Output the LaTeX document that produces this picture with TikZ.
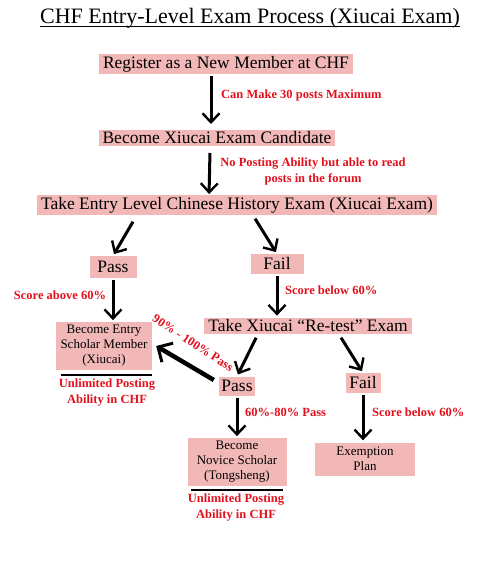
\documentclass[tikz,border=0pt]{standalone}
\usepackage{fontspec}
\setmainfont{Liberation Serif}
\usetikzlibrary{positioning, calc, arrows.meta}

\definecolor{boxpink}{RGB}{242,184,184}
\definecolor{notered}{RGB}{226,16,28}

\begin{document}
\begin{tikzpicture}[
  x=1pt, y=-1pt,
  >={Straight Barb[length=9pt, width=17pt, line width=2.4pt]},
  stepbox/.style  = {fill=boxpink, inner xsep=4pt, inner ysep=2pt,
                     align=center, font=\fontsize{17.5}{19}\selectfont},
  smallbox/.style = {fill=boxpink, inner xsep=4pt, inner ysep=3pt,
                     align=center, font=\fontsize{13}{15}\selectfont},
  resbox/.style   = {stepbox, inner xsep=0pt, inner ysep=0pt},
  note/.style     = {text=notered, align=center, inner sep=1pt,
                     font=\bfseries\fontsize{12.5}{16}\selectfont},
  flow/.style     = {->, line width=3pt, shorten <=2pt, shorten >=2pt},
]
  \useasboundingbox (0,0) rectangle (498,564);

  % title
  \node[font=\fontsize{22}{24}\selectfont, inner sep=0pt] (title) at (250,18)
       {CHF Entry-Level Exam Process (Xiucai Exam)};
  \draw[line width=1pt] (title.south west) ++(0,-2) coordinate (ul) -- (ul -| title.east);

  % main chain
  \node[stepbox] (reg)  at (226,64)  {Register as a New Member at CHF};
  \node[stepbox] (cand) at (217,138) {Become Xiucai Exam Candidate};
  \node[stepbox] (exam) at (237,205) {Take Entry Level Chinese History Exam (Xiucai Exam)};

  \coordinate (r1) at (211,74);  \coordinate (c1) at (211,126);
  \coordinate (c2) at (210,151); \coordinate (e1) at (209,196);
  \draw[flow] (r1) -- (c1);
  \draw[flow] (c2) -- (e1);
  \node[note, anchor=west] (n1) at (220,95) {Can Make 30 posts Maximum};
  \node[note] (n2) at (313,171) {No Posting Ability but able to read\\posts in the forum};

  % first result
  \node[resbox, minimum width=47pt, minimum height=22pt] (pass1) at (113,267) {Pass};
  \node[resbox, minimum width=53pt, minimum height=20pt] (fail1) at (277,264) {Fail};
  \draw[flow] (134,220) -- (pass1.north);
  \draw[flow] (254,217) -- (fail1.north);

  \node[smallbox, minimum width=96pt] (entry) at (104,346)
       {Become Entry\\Scholar Member\\(Xiucai)};
  \draw[line width=1.6pt] ($(entry.south west)+(5,5)$) coordinate (el) -- ++(91,0);
  \node[note, anchor=north] (n3) at ($(entry.south)+(3,8)$) {Unlimited Posting\\Ability in CHF};

  \node[stepbox] (retest) at (308,326) {Take Xiucai ``Re-test'' Exam};

  \draw[flow] (pass1.south) -- (pass1.south |- entry.north);
  \draw[flow] (fail1.south) -- (fail1.south |- retest.north);
  \node[note] (n4) at (60,295) {Score above 60\%};
  \node[note, anchor=west] (n5) at (284,290) {Score below 60\%};

  % re-test result
  \node[resbox, minimum width=36pt, minimum height=19pt] (pass2) at (237,386) {Pass};
  \node[resbox, minimum width=35pt, minimum height=20pt] (fail2) at (363,383) {Fail};
  \draw[flow] (257,336) -- (pass2.north);
  \draw[flow] (340,336) -- (fail2.north);

  \coordinate (tail) at ($(pass2.west)+(-5,-6)$);
  \draw[->, line width=4.5pt,
        >={Straight Barb[length=11pt, width=22pt, line width=3pt]}]
       (tail) -- ($(entry.east)+(4,0)$);
  \node[note, rotate=-33] (n6) at (193,343) {90\% - 100\% Pass};

  \node[smallbox, minimum width=99pt] (novice) at (237,462)
       {Become\\Novice Scholar\\(Tongsheng)};
  \draw[line width=1.6pt] ($(novice.south west)+(4,4)$) coordinate (nl) -- ++(92,0);
  \node[note, anchor=north] (n7) at ($(novice.south)+(-1,7)$) {Unlimited Posting\\Ability in CHF};

  \node[smallbox, minimum width=100pt, minimum height=33pt] (exempt) at (365,459)
       {Exemption\\Plan};

  \draw[flow] (pass2.south) -- (pass2.south |- novice.north);
  \draw[flow] (fail2.south) -- (fail2.south |- exempt.north);
  \node[note, anchor=west] (n8) at (244,412) {60\%-80\% Pass};
  \node[note, anchor=west] (n9) at (371,412) {Score below 60\%};
\end{tikzpicture}
\end{document}
